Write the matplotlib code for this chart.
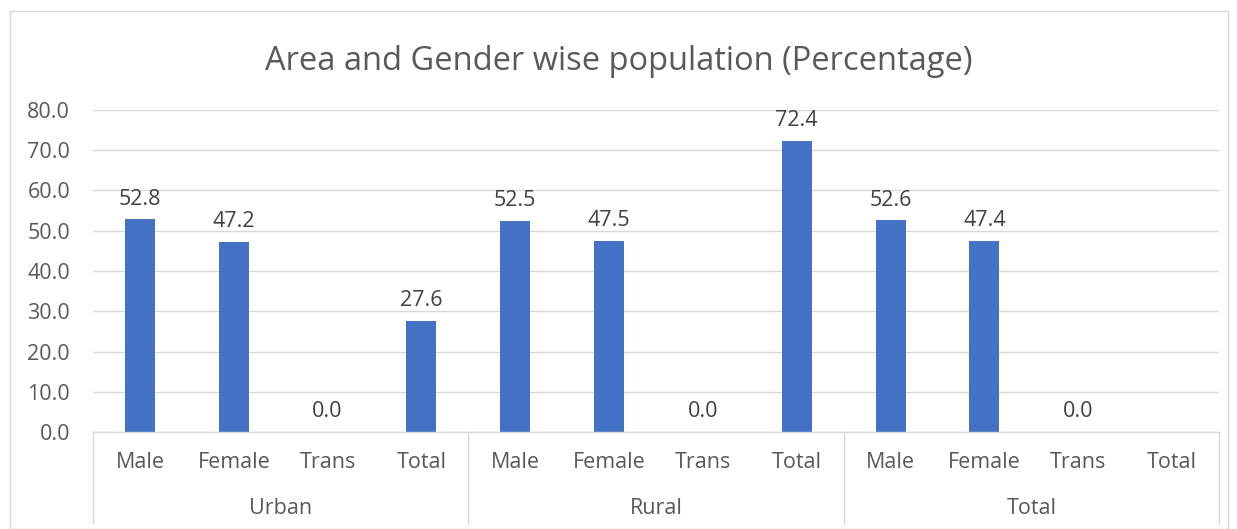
import numpy as np
import matplotlib
matplotlib.use("Agg")
import matplotlib.pyplot as plt
from matplotlib.patches import Rectangle
from matplotlib.lines import Line2D
import matplotlib.transforms as mtransforms

groups = ["Urban", "Rural", "Total"]
categories = ["Male", "Female", "Trans", "Total"]
urban = [52.8, 47.2, 0.0, 27.6]
rural = [52.5, 47.5, 0.0, 72.4]
total = [52.6, 47.4, 0.0, np.nan]
series = [urban, rural, total]
yticks = [0, 10, 20, 30, 40, 50, 60, 70, 80]

plt.rcParams['font.family'] = ['Open Sans', 'DejaVu Sans']
TXT = '#595959'
LBL = '#404040'
BAR = '#4472C4'
GRID = '#D9D9D9'
FS = 15.5

W, H = 1237, 529
fig = plt.figure(figsize=(W / 100, H / 100), dpi=100)
fig.patch.set_facecolor('white')

# outer chart border
fig.patches.append(Rectangle((10 / W, 0.5 / H), 1218 / W, (H - 11.5) / H, transform=fig.transFigure,
                             fill=False, edgecolor=GRID, linewidth=1.0))

x0, x1, ytop, ybot = 93, 1219, 110, 432
ax = fig.add_axes([x0 / W, 1 - ybot / H, (x1 - x0) / W, (ybot - ytop) / H])

values = [v for s in series for v in s]
n = len(values)
xs = np.arange(n)
ax.bar(xs, values, width=0.32, color=BAR, zorder=3)
ax.set_xlim(-0.5, n - 0.5)
ax.set_ylim(0, 80)
ax.set_yticks(yticks)
ax.set_yticklabels([f"{t:.1f}" for t in yticks], color=TXT, fontsize=FS)
ax.tick_params(axis='y', length=0, pad=16.5)
ax.set_xticks([])
ax.grid(axis='y', color=GRID, linewidth=1.0, zorder=0)
for s in ['top', 'right', 'left']:
    ax.spines[s].set_visible(False)
ax.spines['bottom'].set_color(GRID)
ax.spines['bottom'].set_linewidth(1.0)
ax.spines['bottom'].set_zorder(4)

for x, v in zip(xs, values):
    if np.isnan(v):
        continue
    ax.annotate(f"{v:.1f}", (x, v), xytext=(0, 7), textcoords='offset points',
                ha='center', va='bottom', fontsize=FS, color=LBL)

trans = mtransforms.blended_transform_factory(ax.transData, fig.transFigure)
cat_y = 1 - 462 / H
grp_y = 1 - 509 / H
for gi, g in enumerate(groups):
    for ci, c in enumerate(categories):
        ax.text(gi * 4 + ci, cat_y, c, transform=trans, ha='center', va='center',
                fontsize=FS, color=TXT, clip_on=False)
    ax.text(gi * 4 + 1.5, grp_y, g, transform=trans, ha='center', va='center',
            fontsize=FS, color=TXT, clip_on=False)

for b in range(len(groups) + 1):
    xb = b * 4 - 0.5
    fig.lines.append(Line2D([xb, xb], [1 - ybot / H, 1 - 523 / H], transform=trans,
                            color=GRID, linewidth=1.0))

fig.text(0.5 + 0 / W, 1 - 61 / H, "Area and Gender wise population (Percentage)",
         ha='center', va='center', fontsize=23.5, color=TXT)

fig.savefig("out.png", dpi=100)
